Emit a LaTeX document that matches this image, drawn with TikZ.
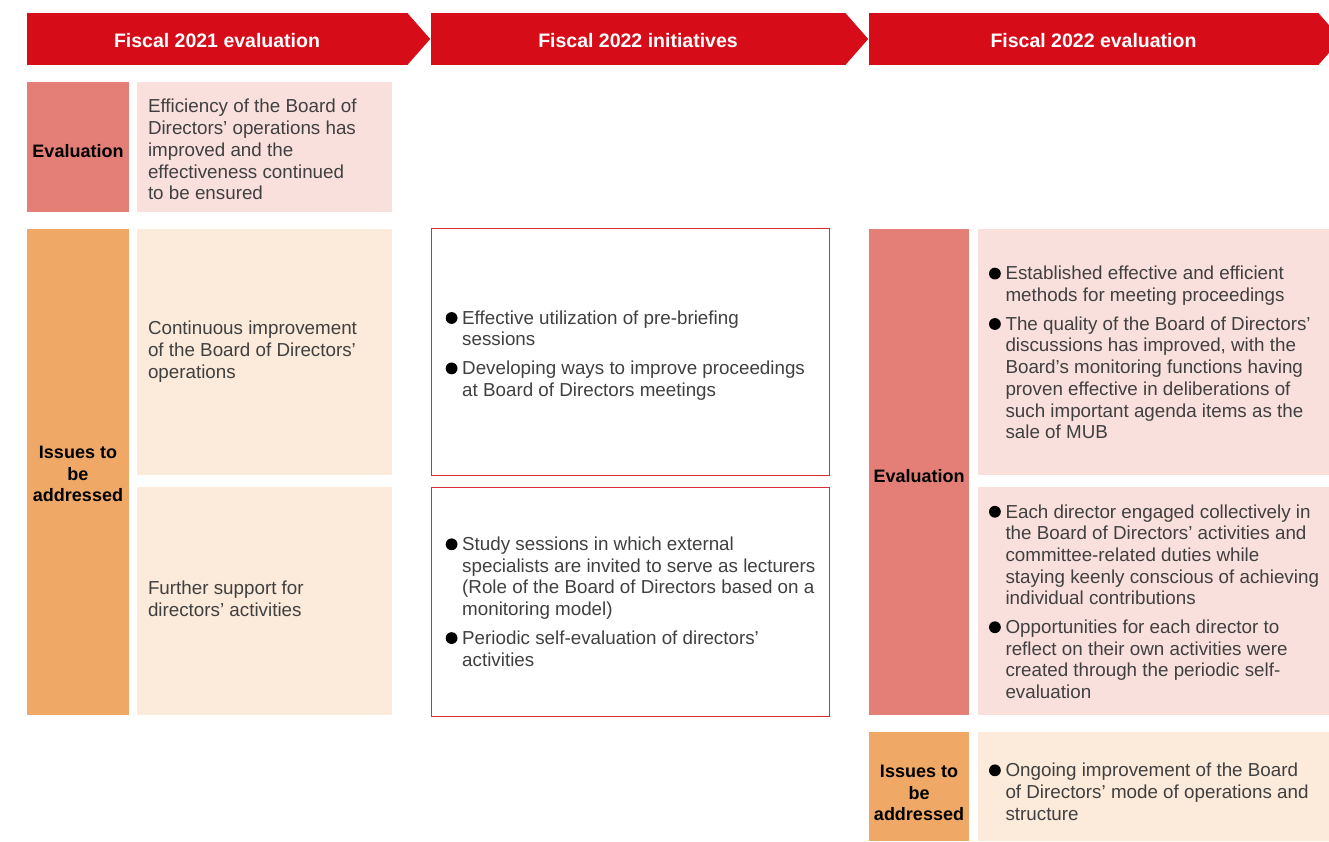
\documentclass[tikz,border=0pt]{standalone}
\usepackage{fontspec}
\setmainfont{Liberation Sans}
\definecolor{hdrred}{HTML}{D70C19}
\definecolor{evdark}{HTML}{E37F76}
\definecolor{evlight}{HTML}{F9E0DC}
\definecolor{isdark}{HTML}{EFA865}
\definecolor{islight}{HTML}{FCEADB}
\definecolor{textgray}{HTML}{404040}
\definecolor{boxred}{HTML}{DC2B35}
\newcommand\bodyf{\fontsize{18.8}{21.7}\selectfont}
\newcommand\labf{\fontsize{18}{21.5}\selectfont\bfseries}
\newcommand\hdrf{\fontsize{19.5}{22}\selectfont\bfseries}
\newcommand\bul{\makebox[16.5pt][l]{\tikz[baseline=0pt]\fill[black] (5.9pt,6.3pt) circle[radius=5.9pt];}}
\newcommand\blist[1]{\begin{tabular}{@{}l@{}l@{}}#1\end{tabular}}
\newcommand\plist[1]{\begin{tabular}{@{}l@{}}#1\end{tabular}}
\newcommand\clist[1]{\begin{tabular}{@{}c@{}}#1\end{tabular}}
\begin{document}
\begin{tikzpicture}[x=1pt,y=-1pt,
  hdr/.style={fill=hdrred, text=white, font=\hdrf, inner sep=0pt, minimum height=52pt, text height=17pt, text depth=0pt},
  panel/.style={inner sep=0pt, draw=none},
  outl/.style={inner sep=0pt, draw=boxred, line width=1pt, fill=white},
  txt/.style={anchor=west, inner sep=0pt, text=textgray, font=\bodyf},
  lab/.style={inner sep=0pt, text=black, font=\labf}]
\useasboundingbox (0,0) rectangle (1329,842);
% headers
\node[hdr, minimum width=380pt] (h1) at (217,39) {Fiscal 2021 evaluation};
\fill[hdrred] (h1.north east) -- ([xshift=23pt]h1.east) -- (h1.south east) -- cycle;
\node[hdr, minimum width=414pt] (h2) at (638,39) {Fiscal 2022 initiatives};
\fill[hdrred] (h2.north east) -- ([xshift=23pt]h2.east) -- (h2.south east) -- cycle;
\node[hdr, minimum width=449pt] (h3) at (1093.5,39) {Fiscal 2022 evaluation};
\fill[hdrred] (h3.north east) -- ([xshift=23pt]h3.east) -- (h3.south east) -- cycle;
% left column
\node[panel, fill=evdark, minimum width=102pt, minimum height=130pt] (ev1L) at (78,147) {};
\node[lab] (ev1Lt) at (78,151) {Evaluation};
\node[panel, fill=evlight, minimum width=255pt, minimum height=130pt] (ev1T) at (264.5,147) {};
\node[txt] (ev1Tt) at ([xshift=11pt]ev1T.west |- 0,152) {\plist{Efficiency of the Board of\\ Directors’ operations has\\ improved and the\\ effectiveness continued\\ to be ensured}};
\node[panel, fill=isdark, minimum width=102pt, minimum height=486pt] (is1L) at (78,472) {};
\node[lab] (is1Lt) at (78,476) {\clist{Issues to\\ be\\ addressed}};
\node[panel, fill=islight, minimum width=255pt, minimum height=246pt] (is1a) at (264.5,352) {};
\node[txt] (is1at) at ([xshift=11pt]is1a.west |- 0,352) {\plist{Continuous improvement\\ of the Board of Directors’\\ operations}};
\node[panel, fill=islight, minimum width=255pt, minimum height=228pt] (is1b) at (264.5,601) {};
\node[txt] (is1bt) at ([xshift=11pt]is1b.west |- 0,601) {\plist{Further support for\\ directors’ activities}};
% middle column
\node[outl, minimum width=398pt, minimum height=246pt] (m1) at (630,352) {};
\node[txt] (m1t) at ([xshift=15pt]m1.west |- 0,356) {\blist{\bul & Effective utilization of pre-briefing\\ & sessions\\[7pt] \bul & Developing ways to improve proceedings\\ & at Board of Directors meetings}};
\node[outl, minimum width=398pt, minimum height=229pt] (m2) at (630,601.5) {};
\node[txt] (m2t) at ([xshift=15pt]m2.west |- 0,604) {\blist{\bul & Study sessions in which external\\ & specialists are invited to serve as lecturers\\ & (Role of the Board of Directors based on a\\ & monitoring model)\\[7pt] \bul & Periodic self-evaluation of directors’\\ & activities}};
% right column
\node[panel, fill=evdark, minimum width=100pt, minimum height=486pt] (ev3L) at (919,472) {};
\node[lab] (ev3Lt) at (919,476) {Evaluation};
\node[panel, fill=evlight, minimum width=351pt, minimum height=246pt] (ev3a) at (1153.5,352) {};
\node[txt] (ev3at) at ([xshift=11pt]ev3a.west |- 0,355) {\blist{\bul & Established effective and efficient\\ & methods for meeting proceedings\\[7pt] \bul & The quality of the Board of Directors’\\ & discussions has improved, with the\\ & Board’s monitoring functions having\\ & proven effective in deliberations of\\ & such important agenda items as the\\ & sale of MUB}};
\node[panel, fill=evlight, minimum width=351pt, minimum height=228pt] (ev3b) at (1153.5,601) {};
\node[txt] (ev3bt) at ([xshift=11pt]ev3b.west |- 0,604) {\blist{\bul & Each director engaged collectively in\\ & the Board of Directors’ activities and\\ & committee-related duties while\\ & staying keenly conscious of achieving\\ & individual contributions\\[7pt] \bul & Opportunities for each director to\\ & reflect on their own activities were\\ & created through the periodic self-\\ & evaluation}};
\node[panel, fill=isdark, minimum width=100pt, minimum height=109pt] (is3L) at (919,786.5) {};
\node[lab] (is3Lt) at (919,795) {\clist{Issues to\\ be\\ addressed}};
\node[panel, fill=islight, minimum width=351pt, minimum height=109pt] (is3T) at (1153.5,786.5) {};
\node[txt] (is3Tt) at ([xshift=11pt]is3T.west |- 0,794) {\blist{\bul & Ongoing improvement of the Board\\ & of Directors’ mode of operations and\\ & structure}};
\end{tikzpicture}
\end{document}
